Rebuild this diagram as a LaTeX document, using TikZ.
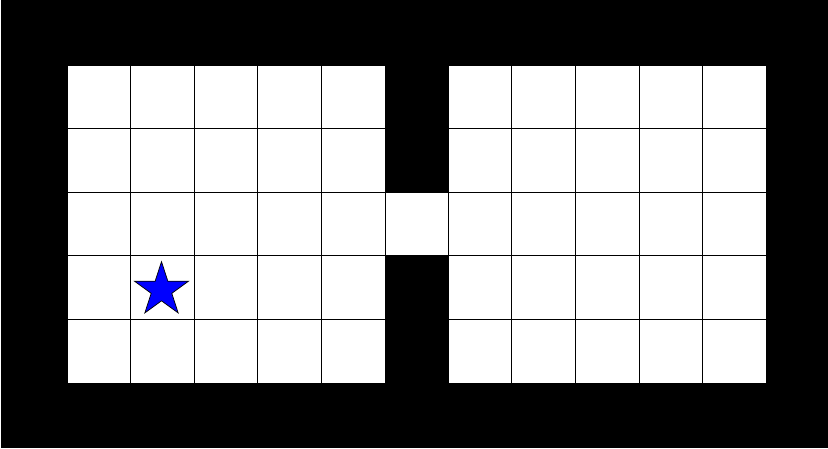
\documentclass[tikz,border=0pt]{standalone}
\usetikzlibrary{shapes.geometric}

\begin{document}
\begin{tikzpicture}[x=0.03cm, y=-0.03cm,
    cellbox/.style={fill=white, draw=black, line width=0.8pt},
    agentstar/.style={star, star points=5, star point ratio=2.618, minimum size=1.7cm,
        inner sep=0pt, fill=blue, draw=black, line width=0.6pt}]
    \useasboundingbox (0,0) rectangle (828,449);
    % walls
    \fill[black] (1.5,0) rectangle (828,447.5);
    % the two rooms
    \foreach \xo in {67,448.3} {
        \foreach \i in {0,...,4}
            \foreach \j in {0,...,4}
                \path[cellbox] ({\xo+\i*63.6},{65+\j*63.6}) rectangle +(63.6,63.6);
    }
    % doorway
    \path[cellbox] (385,192.2) rectangle +(63.3,63.6);
    % agent
    \node[agentstar] (agent) at (161.5,290) {};
\end{tikzpicture}
\end{document}
